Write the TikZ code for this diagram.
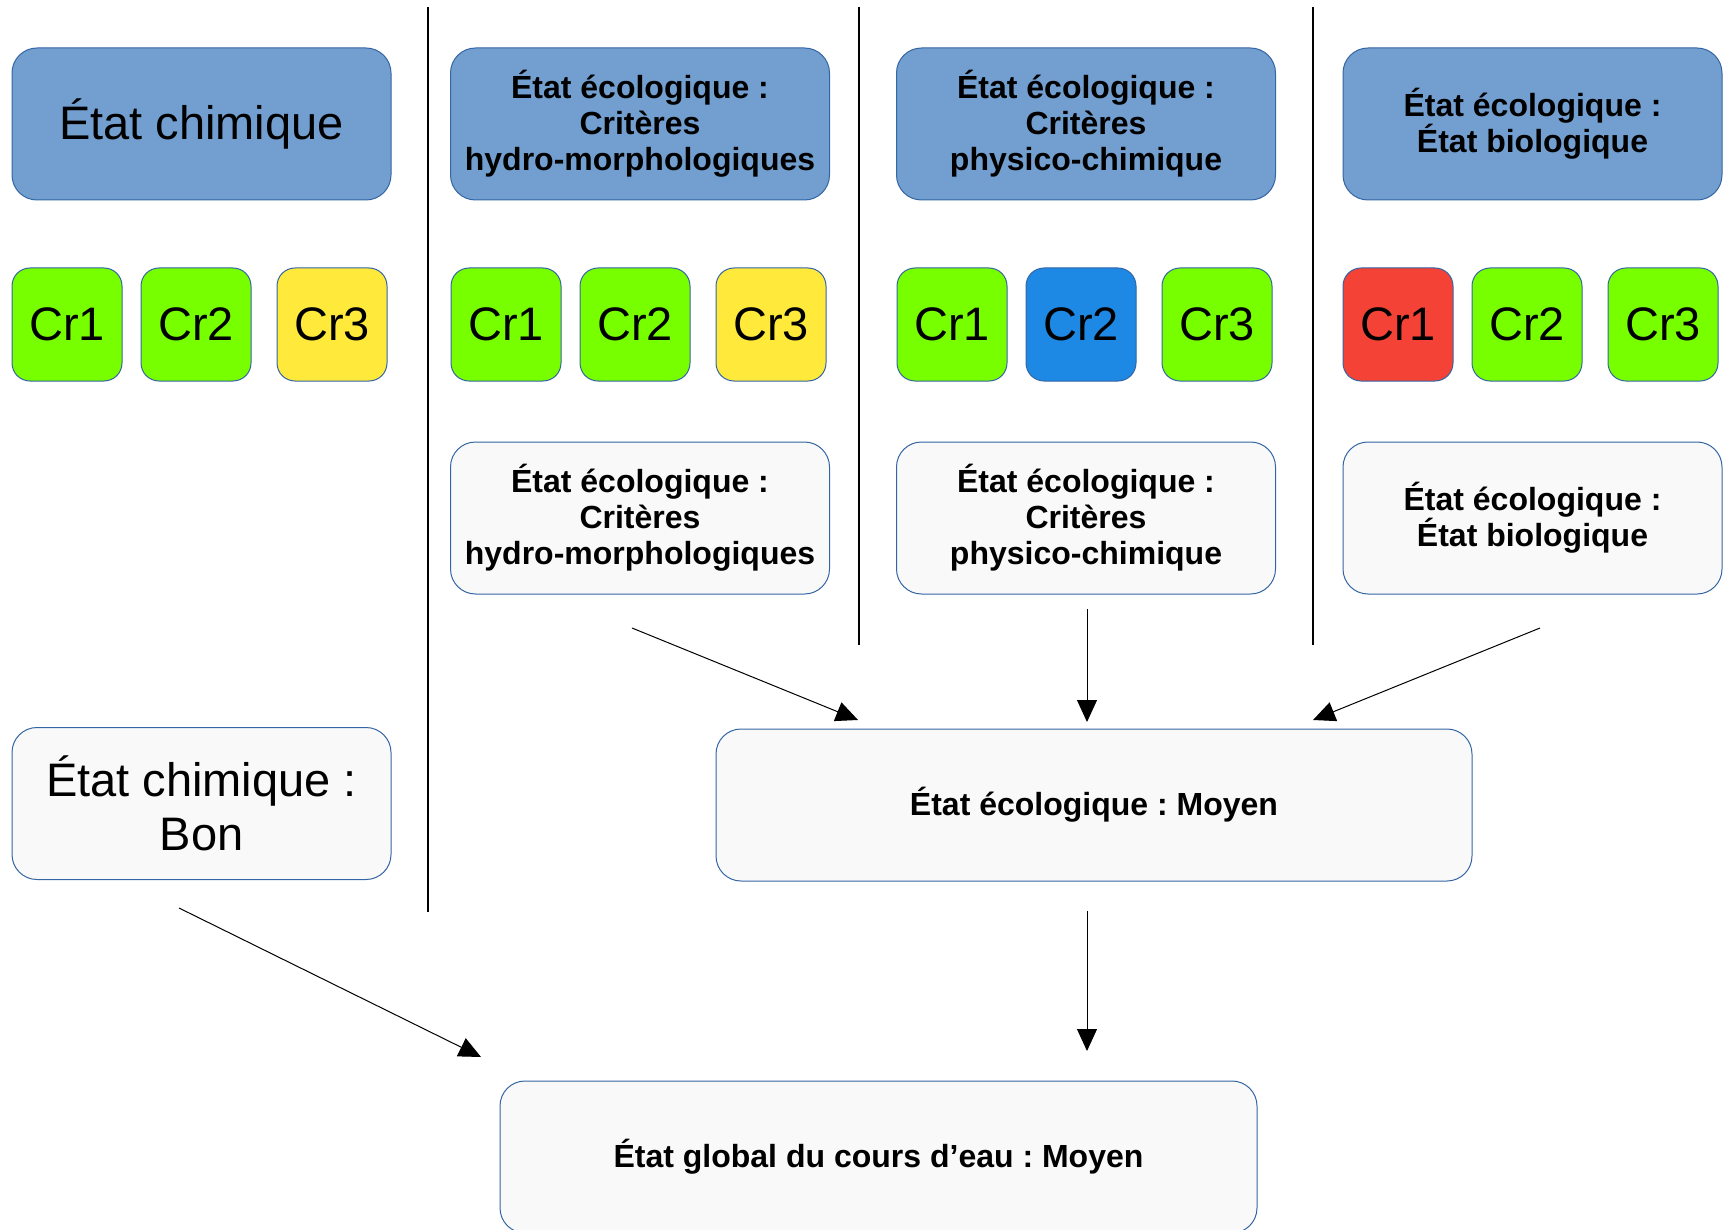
\documentclass[tikz,border=0pt]{standalone}
\usepackage{fontspec}
\setmainfont{Liberation Sans}
\usetikzlibrary{arrows.meta}
\frenchspacing

\definecolor{headblue}{HTML}{729FCF}
\definecolor{boxline}{HTML}{3465A4}
\definecolor{resgrey}{HTML}{F9F9F9}
\definecolor{critgreen}{HTML}{77FF00}
\definecolor{crityellow}{HTML}{FFE93B}
\definecolor{critred}{HTML}{F44336}
\definecolor{critblue}{HTML}{1E88E5}

\newcommand{\bigtext}{\fontsize{23.5}{27}\selectfont}

\tikzset{
    box/.style={draw=boxline, line width=0.5pt, rounded corners=12.5pt,
        minimum width=189.5pt, minimum height=76pt, inner sep=0pt,
        align=center, font=\fontsize{16}{18}\selectfont\bfseries},
    head/.style={box, fill=headblue},
    result/.style={box, fill=resgrey},
    crit/.style={draw=boxline, line width=0.5pt, rounded corners=9pt,
        minimum width=55pt, minimum height=56.5pt, inner sep=0pt, font=\bigtext},
    arr/.style={-{Triangle[length=11pt,width=10pt]}, line width=0.5pt},
    sep/.style={line width=0.75pt}
}

\begin{document}
\begin{tikzpicture}[x=0.5pt,y=-0.5pt]
        \useasboundingbox (0,0) rectangle (1730,1230);
        %% column separators
        \draw[sep] (428,7) -- (428,912);
        \draw[sep] (859,7) -- (859,645);
        \draw[sep] (1313,7) -- (1313,645);
        % headers
        \node[head, font=\bigtext] (chim) at (201.5,124) {État chimique};
        \node[head] (hm) at (640,124) {État écologique :\\Critères\\hydro-morphologiques};
        \node[head] (pc) at (1086,124) {État écologique :\\Critères\\physico-chimique};
        \node[head] (bio) at (1532.5,124) {État écologique :\\État biologique};
        % criteria
        \foreach \n/\x/\a/\b/\c in {chim/12/critgreen/critgreen/crityellow,
                hm/451/critgreen/critgreen/crityellow,
                pc/897/critgreen/critblue/critgreen,
                bio/1343/critred/critgreen/critgreen}{
            \node[crit, fill=\a] (\n-cr1) at (\x+55,324.5) {Cr1};
            \node[crit, fill=\b] (\n-cr2) at (\x+184,324.5) {Cr2};
            \node[crit, fill=\c] (\n-cr3) at (\x+320,324.5) {Cr3};
        }
        % results
        \node[result] (hmres) at (640,518) {État écologique :\\Critères\\hydro-morphologiques};
        \node[result] (pcres) at (1086,518) {État écologique :\\Critères\\physico-chimique};
        \node[result] (biores) at (1532.5,518) {État écologique :\\État biologique};
        \node[result, font=\bigtext] (chimres) at (201.5,803.5) {État chimique :\\Bon};
        \node[result, minimum width=378pt] (ecol) at (1094,805) {État écologique : Moyen};
        \node[result, minimum width=378.5pt] (global) at (878.5,1157) {État global du cours d’eau : Moyen};
        % arrows
        \coordinate (hmres-out) at (632,628);
        \coordinate (pcres-out) at (1087,609);
        \coordinate (biores-out) at (1540,628);
        \coordinate (ecol-in1) at (858,720);
        \coordinate (ecol-in2) at (1087,722);
        \coordinate (ecol-in3) at (1313,720);
        \coordinate (chimres-out) at (179,908);
        \coordinate (ecol-out) at (1087,911);
        \coordinate (global-in1) at (481,1057);
        \coordinate (global-in2) at (1087,1051);
        \draw[arr] (hmres-out) -- (ecol-in1);
        \draw[arr] (pcres-out) -- (ecol-in2);
        \draw[arr] (biores-out) -- (ecol-in3);
        \draw[arr] (chimres-out) -- (global-in1);
        \draw[arr] (ecol-out) -- (global-in2);
\end{tikzpicture}
\end{document}
